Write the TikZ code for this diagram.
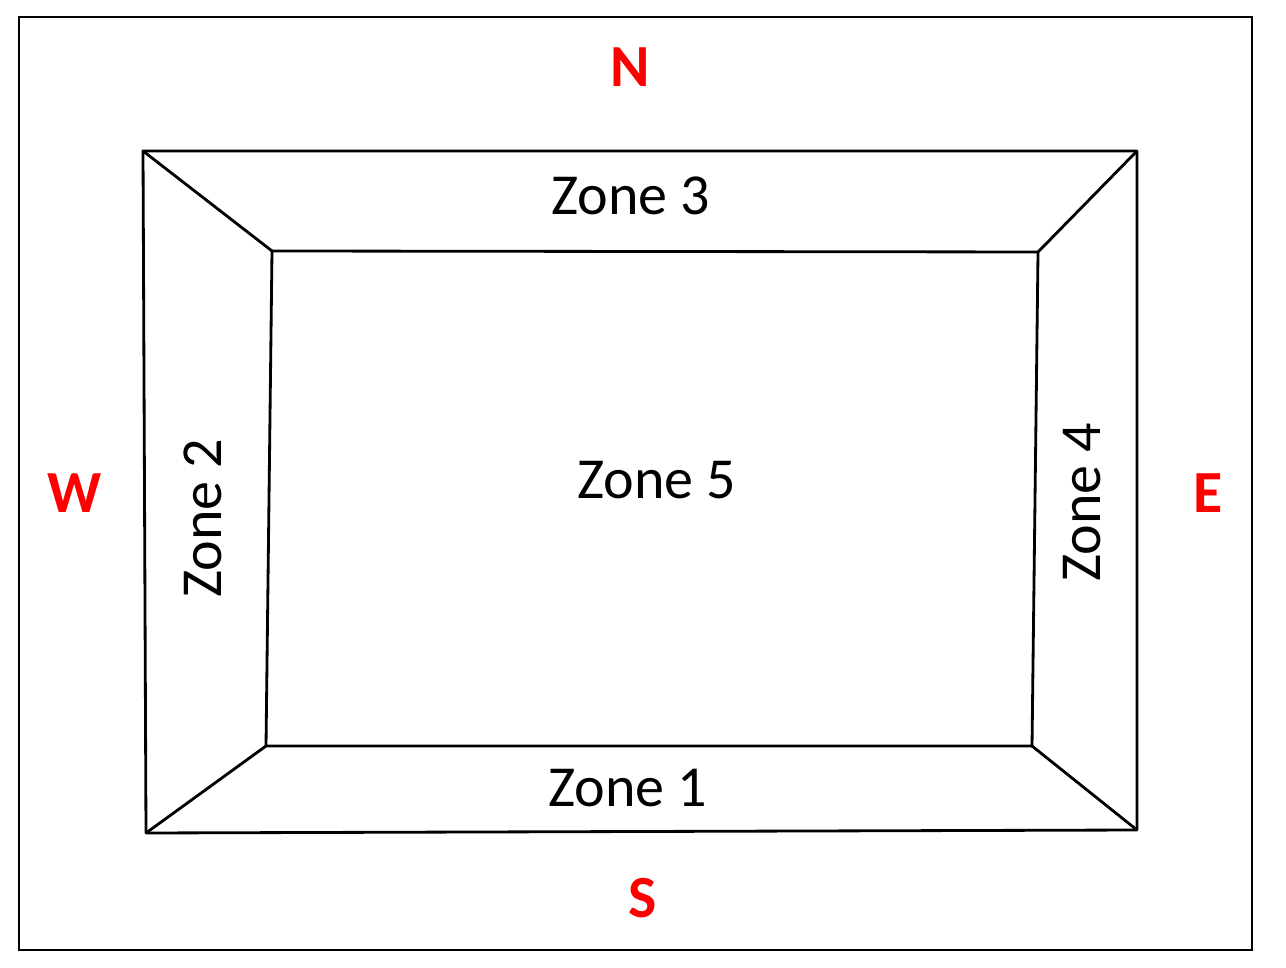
\documentclass[tikz,border=0pt]{standalone}
\usepackage{fontspec}
\setmainfont{Carlito}
\definecolor{compassred}{RGB}{255,0,0}

\tikzset{
  zonelabel/.style={font=\fontsize{16.5}{20}\selectfont, inner sep=0pt},
  dirlabel/.style={font=\fontsize{17}{20}\selectfont\bfseries, text=compassred, inner sep=0pt},
  edge/.style={line width=0.8pt, line join=round}
}

\begin{document}
\begin{tikzpicture}[x=0.01cm, y=-0.01cm]
  \useasboundingbox (0,0) rectangle (1286,968);

  % frame
  \draw[line width=0.7pt] (19,17) rectangle (1252,950);

  % outer corners of the zone ring
  \coordinate (ONW) at (143,151);
  \coordinate (ONE) at (1137,151);
  \coordinate (OSE) at (1137,830);
  \coordinate (OSW) at (146,833);

  % inner corners (zone 5)
  \coordinate (INW) at (272,251);
  \coordinate (INE) at (1038,252);
  \coordinate (ISE) at (1032,746);
  \coordinate (ISW) at (266,746);

  \draw[edge] (ONW) -- (ONE) -- (OSE) -- (OSW) -- cycle;
  \draw[edge] (INW) -- (INE) -- (ISE) -- (ISW) -- cycle;
  \draw[edge] (ONW) -- (INW);
  \draw[edge] (ONE) -- (INE);
  \draw[edge] (OSE) -- (ISE);
  \draw[edge] (OSW) -- (ISW);

  % zone names
  \node[zonelabel] (z3) at (631,196) {Zone 3};
  \node[zonelabel] (z5) at (657,480) {Zone 5};
  \node[zonelabel] (z1) at (628,788) {Zone 1};
  \node[zonelabel, rotate=90] (z2) at (203,518) {Zone 2};
  \node[zonelabel, rotate=90] (z4) at (1082,502) {Zone 4};

  % compass points
  \node[dirlabel] (north) at (630,67) {N};
  \node[dirlabel] (south) at (643,898) {S};
  \node[dirlabel] (west) at (75,493) {W};
  \node[dirlabel] (east) at (1208,493) {E};
\end{tikzpicture}
\end{document}
